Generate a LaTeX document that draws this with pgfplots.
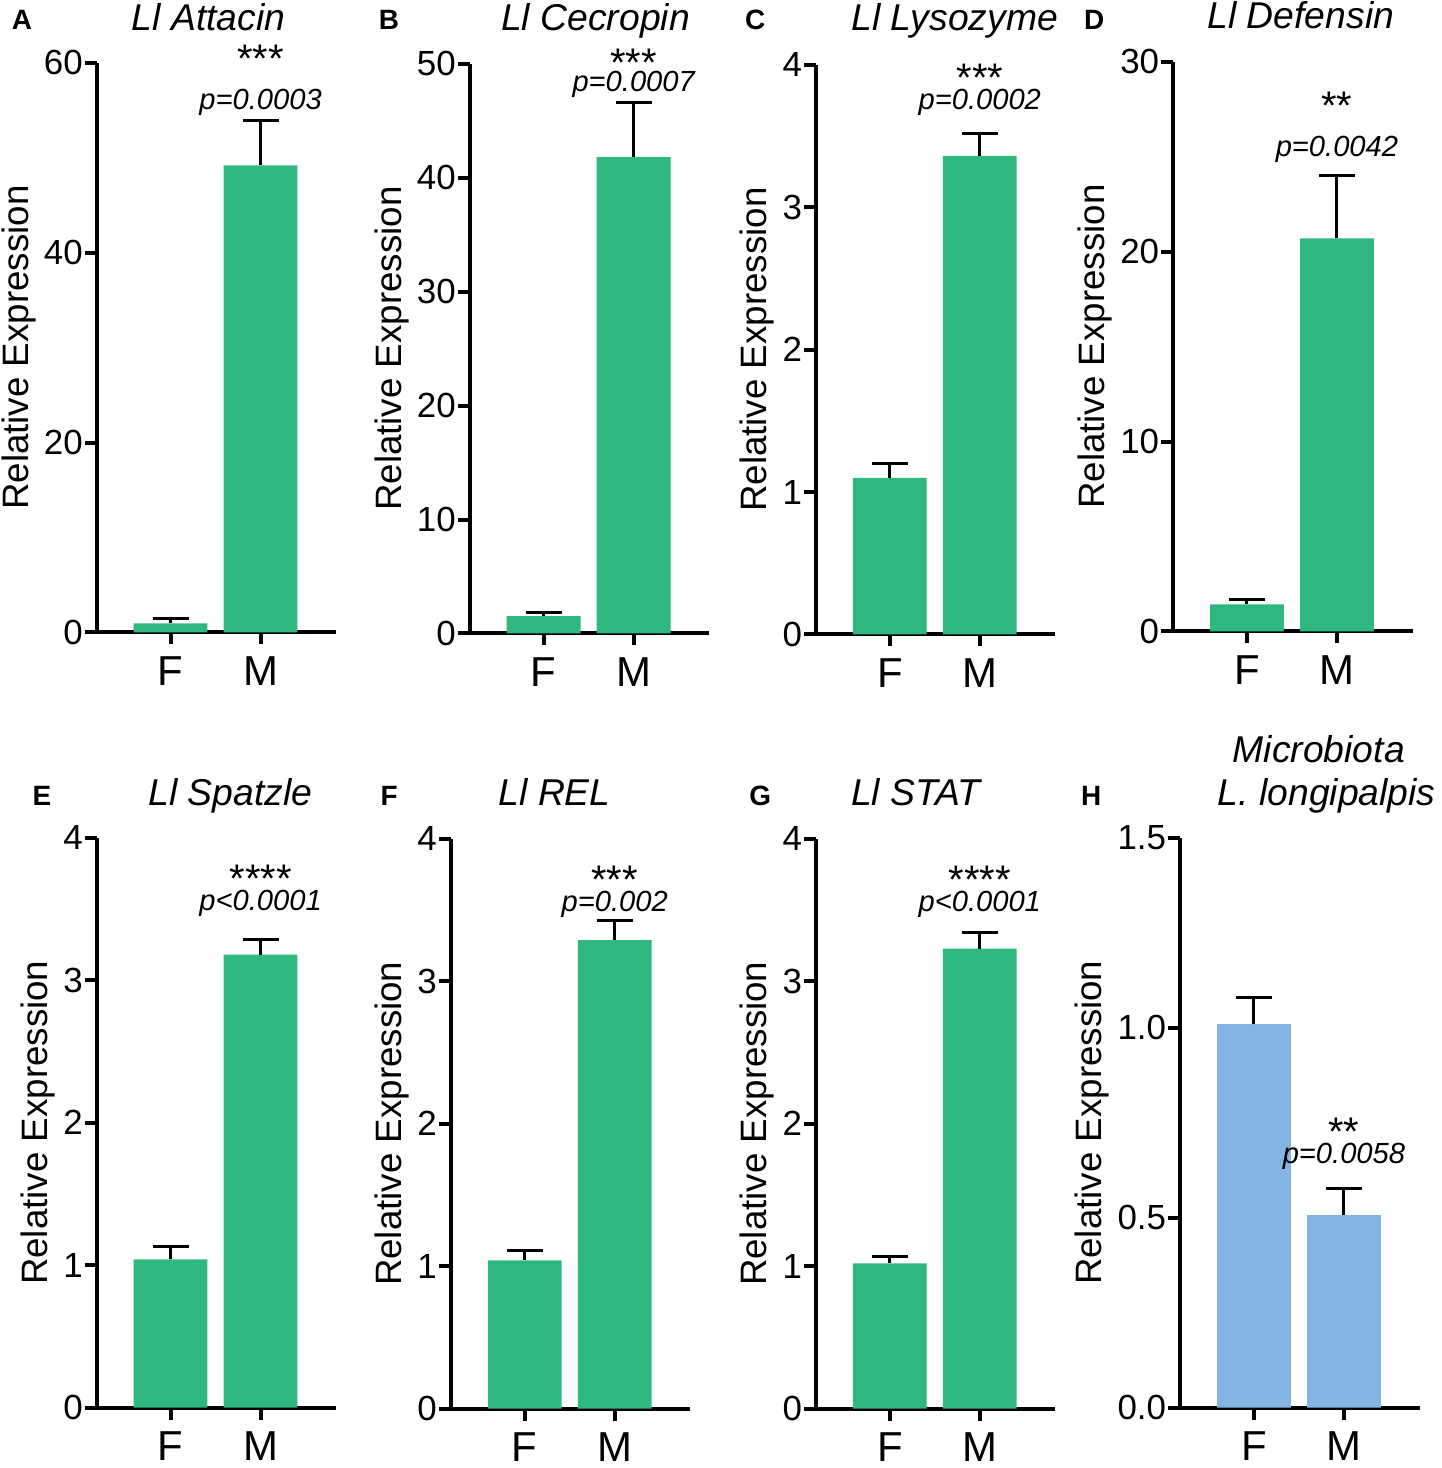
\documentclass[border=0pt]{standalone}
\usepackage{fontspec}
\setmainfont{Liberation Sans}
\usepackage{pgfplots}
\pgfplotsset{compat=1.18}
\definecolor{grn}{HTML}{2FB780}
\definecolor{blu}{HTML}{84B4E1}
\pgfplotsset{
  panel/.style={
    scale only axis, width=120pt, height=285.5pt,
    anchor=south west,
    axis x line*=bottom, axis y line*=left,
    axis line style={line width=2pt, black},
    xmin=-0.82, xmax=1.84, ymin=0,
    xtick={0,1}, xticklabels={F,M},
    tick align=outside, major tick length=6pt,
    every tick/.style={black, line width=2pt},
    ybar, bar width=37pt,
    clip=false,
    x tick label style={font=\fontsize{21}{21}\selectfont, yshift=-2.5pt},
    y tick label style={font=\fontsize{17.5}{18}\selectfont, xshift=2.5pt},
    /pgf/number format/assume math mode=true,
    ylabel={Relative Expression},
    ylabel style={font=\fontsize{18.4}{19}\selectfont, inner sep=0pt, yshift=0.6pt, overlay},
  },
  bars/.style={fill=#1, draw=none,
    error bars/.cd, y dir=plus, y explicit, error mark=|,
    error bar style={draw=black, line width=1.5pt},
    error mark options={draw=black, line width=1.5pt, mark size=9pt}},
}
\newcommand{\stars}[1]{{\fontsize{20}{20}\selectfont #1}}
\newcommand{\pval}[1]{{\fontsize{14.6}{15}\selectfont\itshape #1}}
\begin{document}
\begin{tikzpicture}
\begin{scope}[x=0.5pt,y=-0.5pt]
\path[use as bounding box] (0,0) rectangle (1445,1468);
\end{scope}

% A
\begin{axis}[panel, at={(48.5pt,-317pt)}, ymax=60, ytick={0,20,40,60}]
\addplot[bars=grn] coordinates {(0,0.95) +- (0,0.5) (1,49.2) +- (0,4.7)};
\node at (axis cs:1,60.4) {\stars{***}};
\node at (axis cs:1,55.8) {\pval{p=0.0003}};
\end{axis}
% B
\begin{axis}[panel, at={(235.5pt,-317.5pt)}, ymax=50, ytick={0,10,20,30,40,50}]
\addplot[bars=grn] coordinates {(0,1.52) +- (0,0.32) (1,41.8) +- (0,4.8)};
\node at (axis cs:1,50.1) {\stars{***}};
\node at (axis cs:1,48.2) {\pval{p=0.0007}};
\end{axis}
% C
\begin{axis}[panel, at={(409pt,-318pt)}, ymax=4, ytick={0,1,2,3,4}]
\addplot[bars=grn] coordinates {(0,1.10) +- (0,0.10) (1,3.36) +- (0,0.16)};
\node at (axis cs:1,3.91) {\stars{***}};
\node at (axis cs:1,3.74) {\pval{p=0.0002}};
\end{axis}
% D
\begin{axis}[panel, at={(588pt,-316.5pt)}, ymax=30, ytick={0,10,20,30}]
\addplot[bars=grn] coordinates {(0,1.42) +- (0,0.24) (1,20.7) +- (0,3.3)};
\node at (axis cs:1,27.7) {\stars{**}};
\node at (axis cs:1,25.4) {\pval{p=0.0042}};
\end{axis}
% E
\begin{axis}[panel, at={(48.5pt,-705.5pt)}, ymax=4, ytick={0,1,2,3,4}]
\addplot[bars=grn] coordinates {(0,1.04) +- (0,0.09) (1,3.18) +- (0,0.11)};
\node at (axis cs:1,3.71) {\stars{****}};
\node at (axis cs:1,3.54) {\pval{p<0.0001}};
\end{axis}
% F
\begin{axis}[panel, at={(226pt,-706pt)}, ymax=4, ytick={0,1,2,3,4}]
\addplot[bars=grn] coordinates {(0,1.04) +- (0,0.07) (1,3.29) +- (0,0.14)};
\node at (axis cs:1,3.71) {\stars{***}};
\node at (axis cs:1,3.54) {\pval{p=0.002}};
\end{axis}
% G
\begin{axis}[panel, at={(409pt,-706pt)}, ymax=4, ytick={0,1,2,3,4}]
\addplot[bars=grn] coordinates {(0,1.02) +- (0,0.05) (1,3.23) +- (0,0.11)};
\node at (axis cs:1,3.71) {\stars{****}};
\node at (axis cs:1,3.54) {\pval{p<0.0001}};
\end{axis}
% H
\begin{axis}[panel, at={(591.5pt,-705.5pt)}, ymax=1.5, ytick={0,0.5,1,1.5},
  yticklabel style={/pgf/number format/.cd, fixed, fixed zerofill, precision=1}]
\addplot[bars=blu] coordinates {(0,1.01) +- (0,0.07) (1,0.507) +- (0,0.071)};
\node at (axis cs:1,0.725) {\stars{**}};
\node at (axis cs:1,0.662) {\pval{p=0.0058}};
\end{axis}

\begin{scope}[x=0.5pt,y=-0.5pt, every node/.style={inner sep=0pt}]
\def\tf{\fontsize{18.7}{19}\selectfont\itshape}
\def\lf{\fontsize{14}{14}\selectfont\bfseries}
\node[anchor=base] at (209,31) {\tf Ll Attacin};
\node[anchor=base] at (597,31) {\tf Ll Cecropin};
\node[anchor=base] at (957,31) {\tf Ll Lysozyme};
\node[anchor=base] at (1304,29) {\tf Ll Defensin};
\node[anchor=base] at (231,807) {\tf Ll Spatzle};
\node[anchor=base] at (556,807) {\tf Ll REL};
\node[anchor=base] at (918,807) {\tf Ll STAT};
\node[anchor=base] at (1322,764) {\tf Microbiota};
\node[anchor=base] at (1330,807) {\tf L. longipalpis};
\node[anchor=base] at (22,30) {\lf A};
\node[anchor=base] at (390,30) {\lf B};
\node[anchor=base] at (757,30) {\lf C};
\node[anchor=base] at (1097,30) {\lf D};
\node[anchor=base] at (42,807) {\lf E};
\node[anchor=base] at (390,807) {\lf F};
\node[anchor=base] at (762,807) {\lf G};
\node[anchor=base] at (1094,807) {\lf H};
\end{scope}
\end{tikzpicture}
\end{document}
